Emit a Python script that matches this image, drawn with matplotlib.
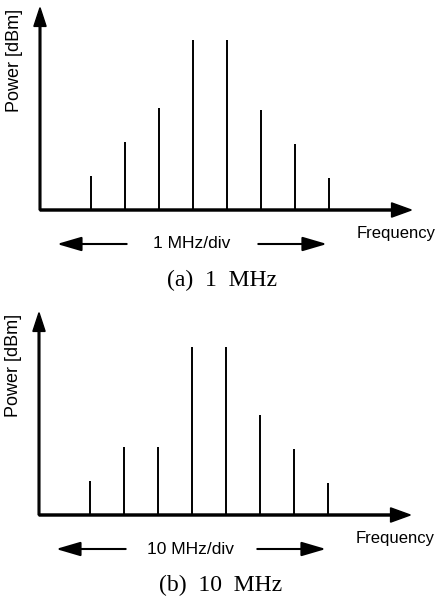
import matplotlib.pyplot as plt
import numpy as np

# posições das raias (em divisões) e alturas relativas
freq_div = [1.5, 2.5, 3.5, 4.5, 5.5, 6.5, 7.5, 8.5]
pot_1mhz = [1.0, 2.0, 3.0, 5.0, 5.0, 2.95, 1.95, 0.95]
pot_10mhz = [1.0, 2.0, 2.0, 4.95, 4.95, 2.95, 1.95, 0.95]

escala = ['1 MHz/div', '10 MHz/div']
legendas = ['(a)  1  MHz', '(b)  10  MHz']

W, H = 439, 598
PX = 34.0  # pixels por unidade

fig = plt.figure(figsize=(W / 100, H / 100), dpi=100)

sans = 'Liberation Sans'
serif = 'Liberation Serif'


def painel(x0_px, y0_px, valores, txt_escala, legenda):
    ax = fig.add_axes([x0_px / W, (H - y0_px) / H, 11 * PX / W, 6.1 * PX / H])
    ax.set_xlim(0, 11)
    ax.set_ylim(0, 6.1)
    ax.axis('off')

    # eixos com setas
    ax.arrow(0, 0, 0, 5.95, width=0.05, head_width=0.36, head_length=0.55,
             length_includes_head=True, color='black', clip_on=False)
    ax.arrow(0, 0, 10.92, 0, width=0.06, head_width=0.42, head_length=0.58,
             length_includes_head=True, color='black', clip_on=False)

    # raias espectrais
    ax.vlines(freq_div, 0, valores, colors='black', linewidth=1.4)

    ax.text(-0.74, 4.4, 'Power [dBm]', rotation=90, ha='center', va='center',
            fontsize=13, family=sans, clip_on=False)
    ax.text(10.47, -0.68, 'Frequency', ha='center', va='center',
            fontsize=12, family=sans, clip_on=False)
    ax.text(4.46, -1.0, txt_escala, ha='center', va='center',
            fontsize=12.5, family=sans, clip_on=False)

    ax.annotate('', xy=(0.5, -1.0), xytext=(2.55, -1.0),
                arrowprops=dict(arrowstyle='-|>,head_length=0.75,head_width=0.22',
                                mutation_scale=20, lw=1.5, color='black',
                                shrinkA=0, shrinkB=0), annotation_clip=False)
    ax.annotate('', xy=(8.44, -1.0), xytext=(6.42, -1.0),
                arrowprops=dict(arrowstyle='-|>,head_length=0.75,head_width=0.22',
                                mutation_scale=20, lw=1.5, color='black',
                                shrinkA=0, shrinkB=0), annotation_clip=False)

    ax.text(5.35, -2.06, legenda, ha='center', va='center',
            fontsize=17, family=serif, clip_on=False)
    return ax


painel(40, 210, pot_1mhz, escala[0], legendas[0])
painel(39, 515, pot_10mhz, escala[1], legendas[1])

plt.savefig('out.png', dpi=100)
